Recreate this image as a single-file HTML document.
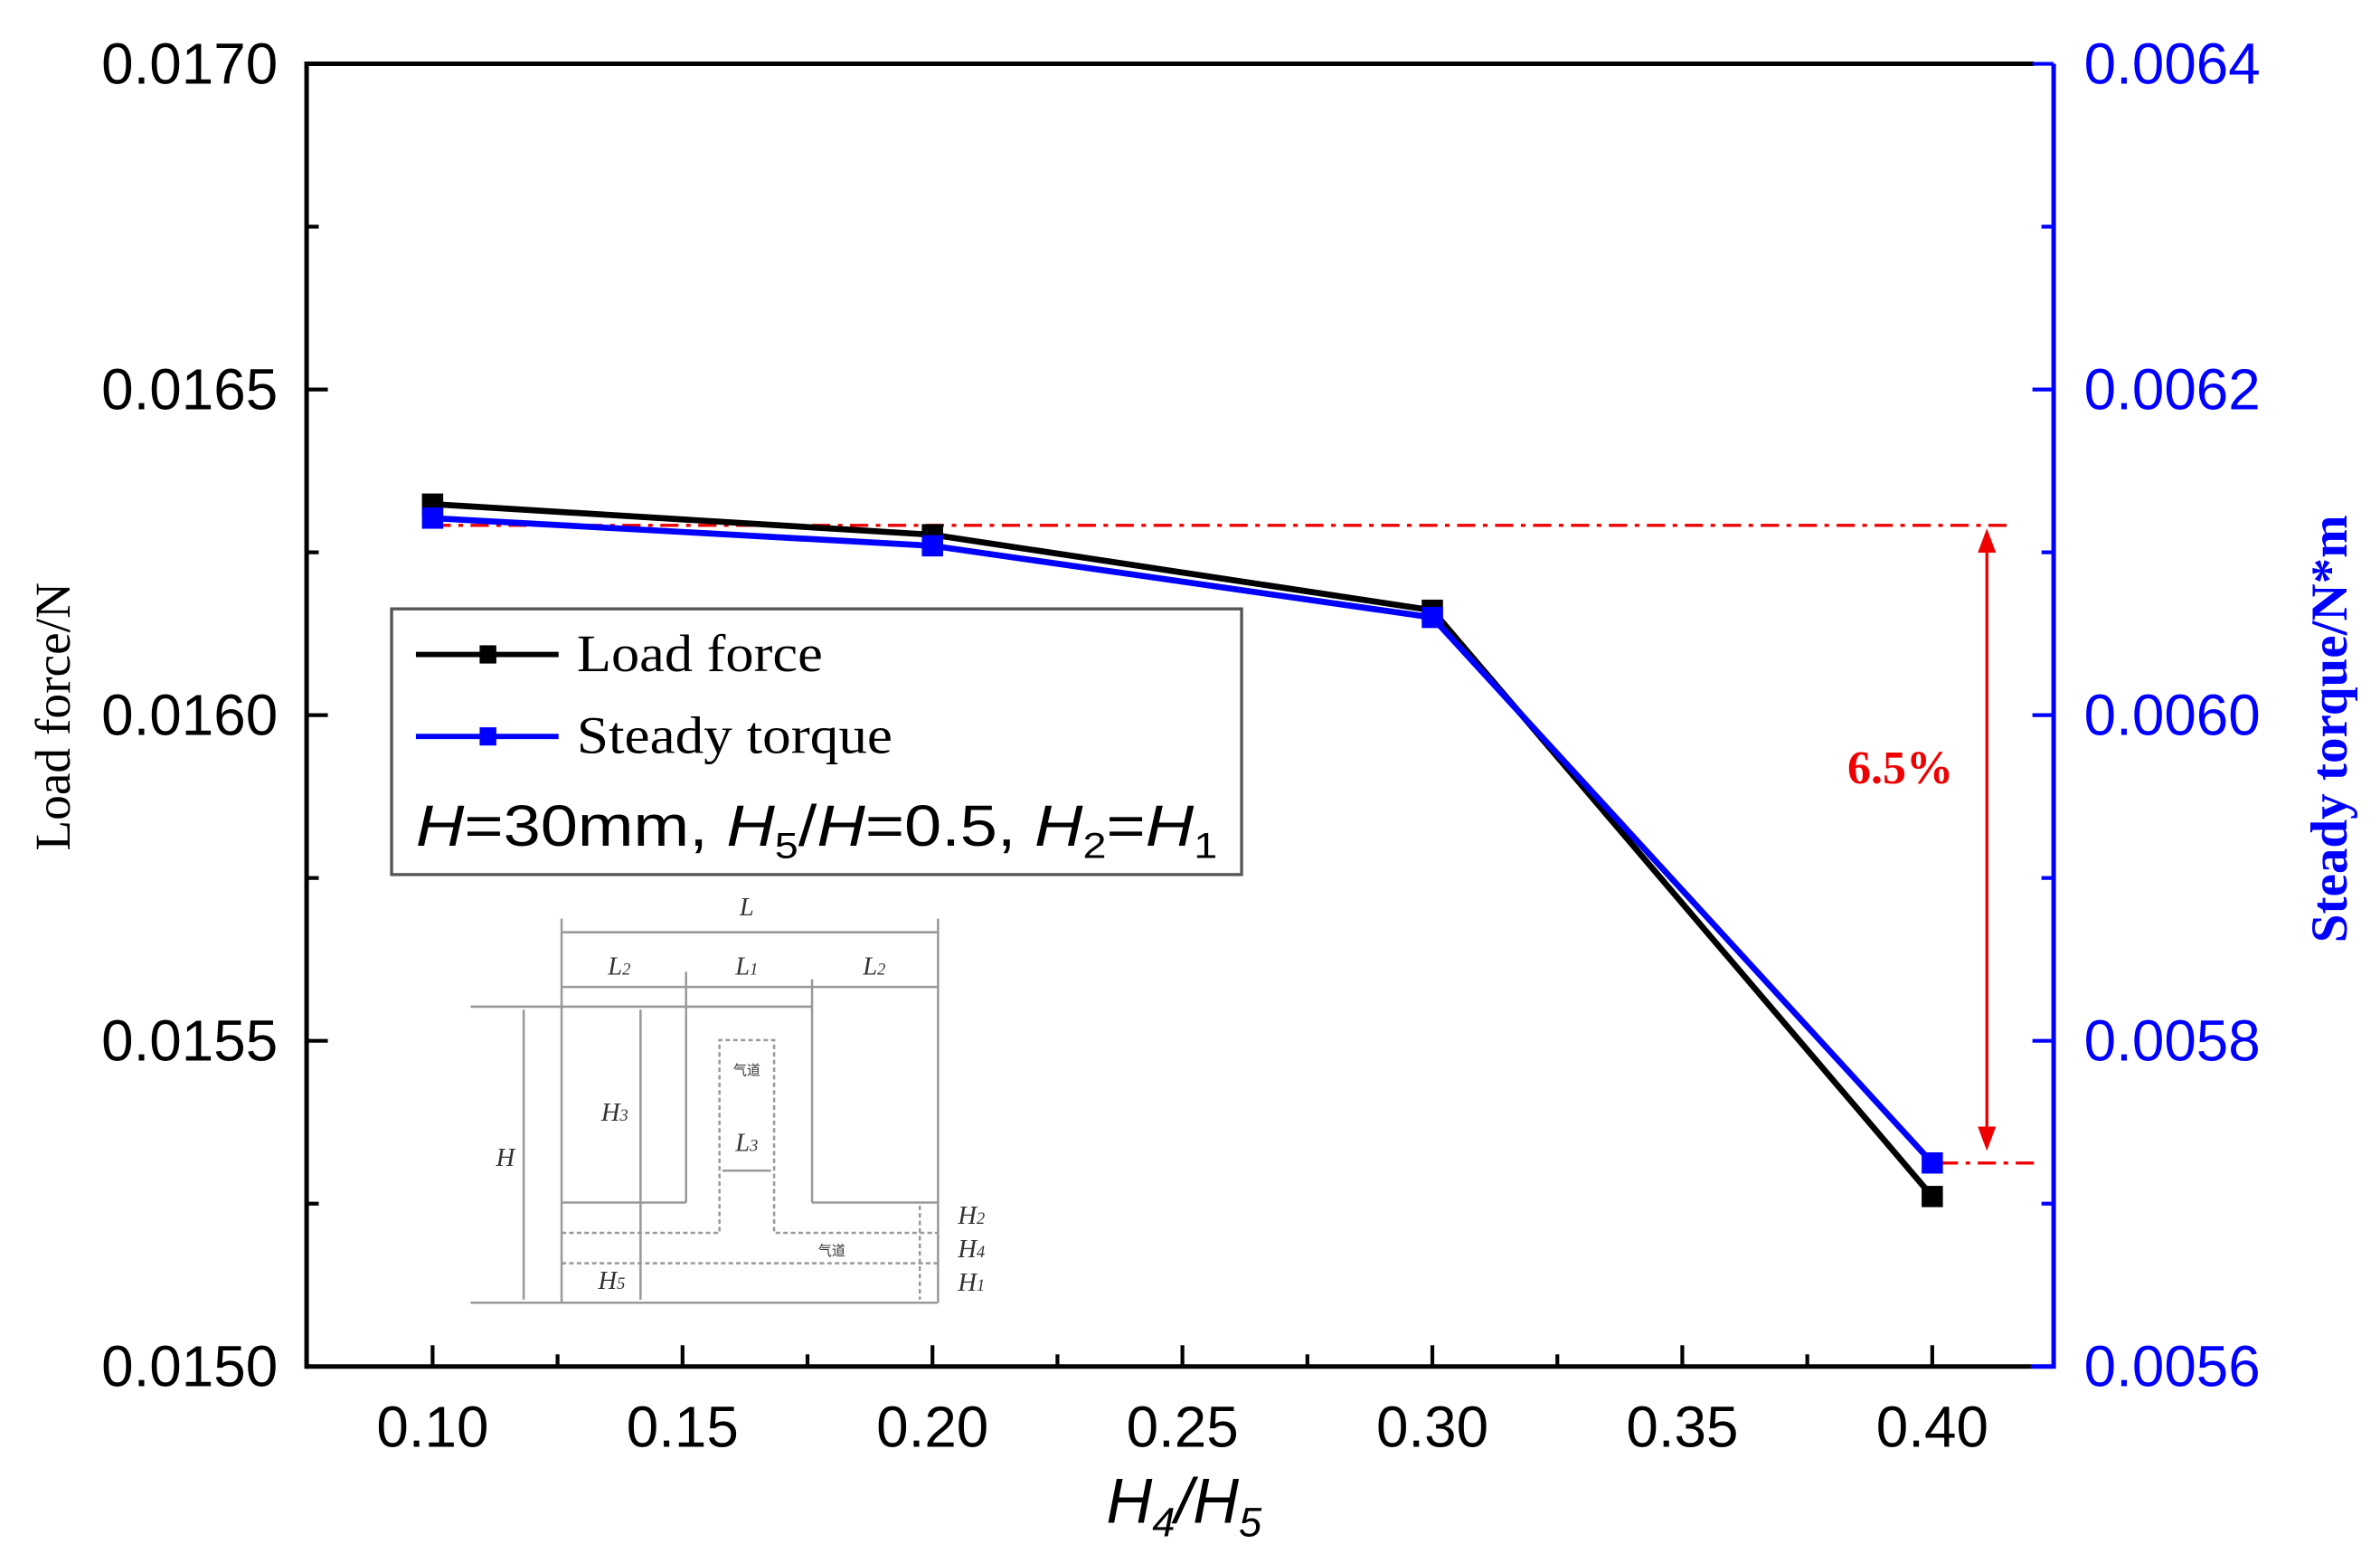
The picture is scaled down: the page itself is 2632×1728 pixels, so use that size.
<!DOCTYPE html>
<html><head><meta charset="utf-8"><style>
html,body{margin:0;padding:0;background:#fff;}
svg{display:block;}
.sans{font-family:"Liberation Sans",sans-serif;}
.serif{font-family:"Liberation Serif",serif;}
</style></head><body>
<svg id="chart" width="2632" height="1728" viewBox="0 0 1568 1029.4" xmlns="http://www.w3.org/2000/svg">
<rect width="1568" height="1030" fill="#fff"/>
<g id="axes"></g>
<g id="annot">
  <line x1="285" y1="346" x2="1325" y2="346" stroke="#e00" stroke-width="2" stroke-dasharray="12,5,3,5"/>
  <line x1="1278" y1="766" x2="1345" y2="766" stroke="#e00" stroke-width="2" stroke-dasharray="12,5,3,5"/>
  <line x1="1309" y1="360" x2="1309" y2="745" stroke="#e00" stroke-width="2"/>
  <polygon points="1303,364 1315,364 1309,348" fill="#e00"/>
  <polygon points="1303,742 1315,742 1309,758" fill="#e00"/>
  <text class="serif" x="1252" y="516" font-size="31" font-weight="bold" fill="#e00" text-anchor="middle">6.5%</text>
</g>
<g id="series"></g>
<g id="legend">
  <rect x="258" y="401" width="560" height="175" fill="#fff" stroke="#555" stroke-width="2"/>
  <line x1="274" y1="431" x2="368" y2="431" stroke="#000" stroke-width="3.5"/>
  <rect x="316" y="425" width="11" height="12" fill="#000"/>
  <text class="serif" x="380" y="442" font-size="35" textLength="162" lengthAdjust="spacingAndGlyphs">Load force</text>
  <line x1="274" y1="485" x2="368" y2="485" stroke="#00f" stroke-width="3.5"/>
  <rect x="316" y="479" width="11" height="12" fill="#00f"/>
  <text class="serif" x="380" y="496" font-size="35" textLength="208" lengthAdjust="spacingAndGlyphs">Steady torque</text>
  <text class="sans" x="274" y="557" font-size="38" textLength="528" lengthAdjust="spacingAndGlyphs"><tspan font-style="italic">H</tspan>=30mm, <tspan font-style="italic">H</tspan><tspan font-size="24" dy="8">5</tspan><tspan dy="-8">/</tspan><tspan font-style="italic">H</tspan>=0.5, <tspan font-style="italic">H</tspan><tspan font-size="24" dy="8">2</tspan><tspan dy="-8">=</tspan><tspan font-style="italic">H</tspan><tspan font-size="24" dy="8">1</tspan></text>
</g>
<g id="schematic" stroke="#999" stroke-width="1.5" fill="none">
  <line x1="310" y1="663" x2="535" y2="663"/>
  <line x1="310" y1="858" x2="618" y2="858"/>
  <line x1="370" y1="605" x2="370" y2="858"/>
  <line x1="618" y1="605" x2="618" y2="858"/>
  <line x1="452" y1="640" x2="452" y2="792"/>
  <line x1="535" y1="645" x2="535" y2="792"/>
  <line x1="370" y1="792" x2="452" y2="792"/>
  <line x1="535" y1="792" x2="618" y2="792"/>
  <line x1="370" y1="614" x2="618" y2="614"/>
  <line x1="370" y1="650" x2="618" y2="650"/>
  <polyline stroke-dasharray="3,2" points="370,812 474,812 474,685 510,685 510,812 618,812"/>
  <line stroke-dasharray="3,2" x1="370" y1="832" x2="618" y2="832"/>
  <line x1="345" y1="665" x2="345" y2="856"/>
  <line x1="422" y1="665" x2="422" y2="856"/>
  <line x1="476" y1="771" x2="508" y2="771"/>
  <line stroke-dasharray="3,2" x1="606" y1="794" x2="606" y2="856"/>
  <g fill="#333" stroke="none" class="serif" font-style="italic" font-size="17" text-anchor="middle">
    <text x="492" y="603">L</text>
    <text x="408" y="642">L<tspan font-size="11">2</tspan></text>
    <text x="492" y="642">L<tspan font-size="11">1</tspan></text>
    <text x="576" y="642">L<tspan font-size="11">2</tspan></text>
    <text x="333" y="768">H</text>
    <text x="405" y="738">H<tspan font-size="11">3</tspan></text>
    <text x="492" y="758">L<tspan font-size="11">3</tspan></text>
    <text x="403" y="849">H<tspan font-size="11">5</tspan></text>
    <text x="640" y="806">H<tspan font-size="11">2</tspan></text>
    <text x="640" y="828">H<tspan font-size="11">4</tspan></text>
    <text x="640" y="850">H<tspan font-size="11">1</tspan></text>
    <text x="492" y="708" font-size="9" font-style="normal" font-family="Noto Sans CJK SC, sans-serif">气道</text>
    <text x="548" y="827" font-size="9" font-style="normal" font-family="Noto Sans CJK SC, sans-serif">气道</text>
  </g>
</g>
</svg>
<script>
const categories=[0.10,0.20,0.30,0.40];
const loadForce=[0.016324,0.016277,0.016161,0.015261];
const steadyTorque=[0.006121,0.006104,0.006060,0.005725];
const xTicks=[0.10,0.15,0.20,0.25,0.30,0.35,0.40];
const xTickLabels=["0.10","0.15","0.20","0.25","0.30","0.35","0.40"];
const yLeftTicks=[0.0150,0.0155,0.0160,0.0165,0.0170];
const yLeftLabels=["0.0150","0.0155","0.0160","0.0165","0.0170"];
const yRightTicks=[0.0056,0.0058,0.0060,0.0062,0.0064];
const yRightLabels=["0.0056","0.0058","0.0060","0.0062","0.0064"];

const NS="http://www.w3.org/2000/svg";
const X0=202,X1=1353,Y0=42,Y1=900;
function xs(v){return 285+(v-0.10)/0.05*164.67;}
function yL(v){return Y0+(0.0170-v)/0.0020*(Y1-Y0);}
function yR(v){return Y0+(0.0064-v)/0.0008*(Y1-Y0);}
function mk(tag,attrs,parent,text){const e=document.createElementNS(NS,tag);for(const k in attrs)e.setAttribute(k,attrs[k]);if(text!==undefined)e.textContent=text;parent.appendChild(e);return e;}
const ax=document.getElementById('axes');
let e;
e=mk('line',{x1:X0,y1:Y0,x2:1340,y2:Y0,stroke:'#000','stroke-width':3},ax);


e=mk('line',{x1:X0,y1:Y0-1.5,x2:X0,y2:Y1+1.5,stroke:'#000','stroke-width':3},ax);


e=mk('line',{x1:X0,y1:Y1,x2:1338,y2:Y1,stroke:'#000','stroke-width':3},ax);


e=mk('polyline',{points:`1338,${Y1} ${X1},${Y1} ${X1},${Y0}`,stroke:'#00f','stroke-width':3,fill:'none'},ax);


xTicks.forEach((v,i)=>{
  const x=xs(v);
  mk('line',{x1:x,y1:Y1,x2:x,y2:Y1-14,stroke:'#000','stroke-width':2.5},ax);
  if(i<xTicks.length-1){const xm=xs(v+0.025);mk('line',{x1:xm,y1:Y1,x2:xm,y2:Y1-8,stroke:'#000','stroke-width':2.5},ax);}
  const t=mk('text',{x:x,y:953,'font-size':38,'text-anchor':'middle',class:'sans'},ax,xTickLabels[i]);
  
  
});
yLeftTicks.forEach((v,i)=>{
  const y=yL(v);
  mk('line',{x1:X0,y1:y,x2:X0+14,y2:y,stroke:'#000','stroke-width':2.5},ax);
  if(i<yLeftTicks.length-1){const ym=yL(v+0.00025);mk('line',{x1:X0,y1:ym,x2:X0+8,y2:ym,stroke:'#000','stroke-width':2.5},ax);}
  const t=mk('text',{x:183,y:y+13,'font-size':38,'text-anchor':'end',class:'sans'},ax,yLeftLabels[i]);
  
  
});
yRightTicks.forEach((v,i)=>{
  const y=yR(v);
  mk('line',{x1:X1,y1:y,x2:X1-14,y2:y,stroke:'#00f','stroke-width':2.5},ax);
  if(i<yRightTicks.length-1){const ym=yR(v+0.0001);mk('line',{x1:X1,y1:ym,x2:X1-8,y2:ym,stroke:'#00f','stroke-width':2.5},ax);}
  const t=mk('text',{x:1373,y:y+13,'font-size':38,fill:'#00f',class:'sans'},ax,yRightLabels[i]);
  
  
});
e=mk('text',{x:780,y:1003,'font-size':42,'text-anchor':'middle',class:'sans','font-style':'italic'},ax);
e.innerHTML='H<tspan font-size="27" dy="9">4</tspan><tspan dy="-9">/H</tspan><tspan font-size="27" dy="9">5</tspan>';


e=mk('text',{x:0,y:0,'font-size':33,'text-anchor':'middle',class:'serif',transform:'translate(46,472) rotate(-90)'},ax,'Load force/N');


e=mk('text',{x:0,y:0,'font-size':34,'font-weight':'600','text-anchor':'middle',fill:'#00f',class:'serif',transform:'translate(1546,480) rotate(-90)'},ax,'Steady torque/N*m');


const sg=document.getElementById('series');
function drawSeries(vals,yf,color,name){
  const pts=categories.map((c,i)=>xs(c)+','+yf(vals[i])).join(' ');
  const l=mk('polyline',{points:pts,fill:'none',stroke:color,'stroke-width':4,'stroke-linejoin':'round'},sg);
  
  
  categories.forEach((c,i)=>{
    const r=mk('rect',{x:xs(c)-7,y:yf(vals[i])-7,width:14,height:14,fill:color},sg);
    
    
  });
}
drawSeries(loadForce,yL,'#000','load-force');
drawSeries(steadyTorque,yR,'#00f','steady-torque');
</script>
</body></html>
